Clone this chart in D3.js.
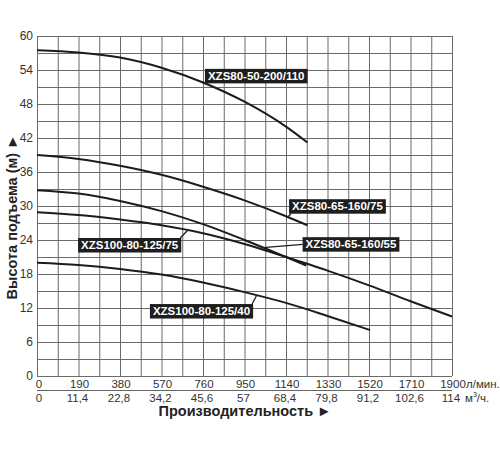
<!DOCTYPE html>
<html lang="ru">
<head>
    <meta charset="UTF-8">
    <title>Кривые насосов XZS</title>
    <script src="https://cdn.jsdelivr.net/npm/d3@7"></script>
</head>
<body>

    <div class="marco"></div>

    <style>
        body, html {margin: 0; padding: 0; background: #fff;}
        .marco svg {display: block;}
        .rejilla {fill: none; stroke: #666; stroke-width: 1;}
        .curva {fill: none; stroke: #1c1c1c; stroke-width: 2;}
        .tick-txt {font-family: "Liberation Sans", Arial, sans-serif; font-size: 11.5px; fill: #333;}
        .titulo {font-family: "Liberation Sans", Arial, sans-serif; font-size: 14.5px; font-weight: bold; fill: #222;}
        .etiqueta text {font-family: "Liberation Sans", Arial, sans-serif; font-size: 11.5px; font-weight: bold; fill: #fff;}
        .etiqueta rect {fill: #1e1e1e;}
        .etiqueta line {stroke: #1e1e1e; stroke-width: 1.3;}
    </style>

    <script>
        // ejes: caudal en л/мин y m3/h, altura en m
        const flowTicks = [0, 190, 380, 570, 760, 950, 1140, 1330, 1520, 1710, 1900];
        const m3Ticks = ["0", "11,4", "22,8", "34,2", "45,6", "57", "68,4", "79,8", "91,2", "102,6", "114"];
        const headTicks = [0, 6, 12, 18, 24, 30, 36, 42, 48, 54, 60];

        // curvas (caudal л/мин, altura m)
        const pump110Flow = [0, 190, 380, 570, 760, 950, 1140, 1238];
        const pump110Head = [57.5, 57.1, 56.2, 54.4, 51.8, 48.4, 44.0, 41.2];

        const pump75Flow = [0, 190, 380, 570, 760, 950, 1140, 1238];
        const pump75Head = [39.0, 38.3, 37.1, 35.5, 33.4, 31.0, 28.2, 26.6];

        const pump55Flow = [0, 190, 380, 570, 760, 950, 1140, 1233];
        const pump55Head = [32.8, 32.2, 30.9, 29.1, 26.8, 24.0, 21.0, 19.5];

        const pump100_75Flow = [0, 190, 380, 570, 760, 950, 1140, 1330, 1520, 1710, 1900];
        const pump100_75Head = [28.9, 28.4, 27.6, 26.6, 25.2, 23.3, 21.0, 18.6, 16.0, 13.2, 10.5];

        const pump100_40Flow = [0, 190, 380, 570, 760, 950, 1140, 1330, 1525];
        const pump100_40Head = [20.0, 19.6, 18.9, 17.9, 16.5, 14.8, 12.9, 10.6, 8.1];

        const series = [
            {name: "XZS80-50-200/110", flow: pump110Flow, head: pump110Head},
            {name: "XZS80-65-160/75", flow: pump75Flow, head: pump75Head},
            {name: "XZS80-65-160/55", flow: pump55Flow, head: pump55Head},
            {name: "XZS100-80-125/75", flow: pump100_75Flow, head: pump100_75Head},
            {name: "XZS100-80-125/40", flow: pump100_40Flow, head: pump100_40Head}
        ];

        // donde va cada etiqueta (esquina sup. izq. en unidades de datos) y a que caudal apunta
        const labelPos = {
            "XZS80-50-200/110": {x: 769, y: 54.2, at: 758, from: "bl"},
            "XZS80-65-160/75": {x: 1154, y: 31.2, at: 1148, from: "bl"},
            "XZS80-65-160/55": {x: 1216, y: 24.5, at: 1035, from: "ml"},
            "XZS100-80-125/75": {x: 188, y: 24.35, at: 690, from: "tr"},
            "XZS100-80-125/40": {x: 517, y: 12.7, at: 1006, from: "tr"}
        };

        var width = 500, height = 450,
            margin = {top: 36, right: 48, bottom: 74, left: 37};

        var svg = d3.select(".marco").append("svg")
            .attr("width", width)
            .attr("height", height);

        var x = d3.scaleLinear().domain([0, 1900]).range([margin.left, width - margin.right]),
            y = d3.scaleLinear().domain([0, 60]).range([height - margin.bottom, margin.top]);

        //Rejilla con los ejes de d3 (tickSize a todo el alto/ancho)
        var gx = svg.append("g")
            .attr("transform", `translate(0, ${y(0)})`)
            .call(d3.axisBottom(x).tickValues(d3.range(0, 1900 + 1, 95)).tickSize(-(y(0) - y(60))).tickFormat(""));
        var gy = svg.append("g")
            .attr("transform", `translate(${x(0)}, 0)`)
            .call(d3.axisLeft(y).tickValues(d3.range(0, 60 + 1, 3)).tickSize(-(x(1900) - x(0))).tickFormat(""));
        [gx, gy].forEach(g => {
            g.select(".domain").remove();
            g.selectAll(".tick line").attr("stroke", "#6a6a6a").attr("stroke-width", 1);
        });

        //Eje vertical
        svg.append("g").selectAll("text")
            .data(headTicks)
            .enter().append("text")
            .attr("class", "tick-txt")
            .attr("x", x(0) - 4)
            .attr("y", d => y(d) + 4)
            .attr("text-anchor", "end")
            .style("font-size", "12px")
            .text(d => d);

        //Eje horizontal, dos filas
        svg.append("g").selectAll("text")
            .data(flowTicks)
            .enter().append("text")
            .attr("class", "tick-txt")
            .attr("x", (d, i) => x(d) + (i == 0 ? 2 : 1))
            .attr("y", y(0) + 12)
            .attr("text-anchor", "middle")
            .text(d => d);
        svg.append("text").attr("class", "tick-txt")
            .attr("x", x(1900) + 14).attr("y", y(0) + 12)
            .text("л/мин.");

        svg.append("path")
            .attr("class", "rejilla")
            .attr("d", `M${x(0)},${y(0) + 14.5}L${x(1900)},${y(0) + 14.5}`);

        svg.append("g").selectAll("text")
            .data(m3Ticks)
            .enter().append("text")
            .attr("class", "tick-txt")
            .attr("x", (d, i) => x(flowTicks[i]) + (i == 0 ? 2 : -1))
            .attr("y", y(0) + 26)
            .attr("text-anchor", "middle")
            .text(d => d);
        var m3 = svg.append("text").attr("class", "tick-txt")
            .attr("x", x(1900) + 13).attr("y", y(0) + 26);
        m3.append("tspan").text("м");
        m3.append("tspan").attr("dy", -5).style("font-size", "7px").text("3");
        m3.append("tspan").attr("dy", 5).text("/ч.");

        //Titulos
        svg.append("text").attr("class", "titulo")
            .attr("x", 245).attr("y", y(0) + 40)
            .attr("text-anchor", "middle")
            .text("Производительность ►");
        svg.append("text").attr("class", "titulo")
            .attr("transform", `translate(17, 217) rotate(-90)`)
            .attr("text-anchor", "middle")
            .text("Высота подъема (м) ►");

        //Curvas
        var line = d3.line()
            .x(d => x(d[0]))
            .y(d => y(d[1]))
            .curve(d3.curveMonotoneX);

        svg.append("g").selectAll("path")
            .data(series)
            .enter().append("path")
            .attr("class", "curva")
            .attr("d", s => line(s.flow.map((f, i) => [f, s.head[i]])));

        //Etiquetas
        function headAt(s, f) {
            var i = d3.bisectRight(s.flow, f) - 1;
            i = Math.max(0, Math.min(i, s.flow.length - 2));
            var t = (f - s.flow[i]) / (s.flow[i + 1] - s.flow[i]);
            return s.head[i] + t * (s.head[i + 1] - s.head[i]);
        }

        series.forEach(s => {
            var p = labelPos[s.name];
            var g = svg.append("g").attr("class", "etiqueta");
            var bx = x(p.x), by = y(p.y);
            var txt = g.append("text")
                .attr("x", bx + 3)
                .attr("y", by + 11)
                .text(s.name);
            var w = txt.node().getComputedTextLength() + 6, h = 14.5;
            g.insert("rect", "text")
                .attr("x", bx).attr("y", by)
                .attr("width", w).attr("height", h);

            var sx, sy;
            if (p.from == "bl") { sx = bx + 2; sy = by + h; }
            else if (p.from == "ml") { sx = bx; sy = by + h / 2; }
            else { sx = bx + w - 1; sy = by; }
            g.append("line")
                .attr("x1", sx).attr("y1", sy)
                .attr("x2", x(p.at)).attr("y2", y(headAt(s, p.at)));
        });
    </script>
</body>
</html>
